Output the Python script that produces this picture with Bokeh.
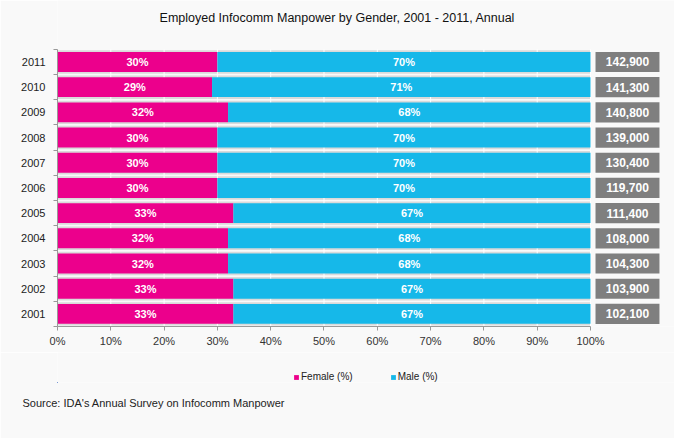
from bokeh.plotting import figure
from bokeh.layouts import column
from bokeh.models import ColumnDataSource, Range1d, FixedTicker, Label, Legend, LegendItem, Title
from bokeh.core.properties import value
from bokeh.embed import file_html
from bokeh.resources import INLINE

# data
years = [2001, 2002, 2003, 2004, 2005, 2006, 2007, 2008, 2009, 2010, 2011]
female = [33, 33, 32, 32, 33, 30, 30, 30, 32, 29, 30]
male = [67, 67, 68, 68, 67, 70, 70, 70, 68, 71, 70]
total = [102100, 103900, 104300, 108000, 111400, 119700, 130400, 139000, 140800, 141300, 142900]
pct_ticks = [0, 10, 20, 30, 40, 50, 60, 70, 80, 90, 100]

FONT = "Liberation Sans"
PINK = "#ec008c"
BLUE = "#16b8e9"
PAGE = "#f9f9f9"

n = len(years)
pos = list(range(n))
src = ColumnDataSource(dict(
    y=pos,
    female=female,
    end=[f + m for f, m in zip(female, male)],
    female_mid=[f / 2 for f in female],
    male_mid=[f + m / 2 for f, m in zip(female, male)],
    female_lbl=["%d%%" % f for f in female],
    male_lbl=["%d%%" % m for m in male],
    total_lbl=["{:,}".format(t) for t in total],
))

# main chart: frame runs from the top of the canvas, title sits inside it above the rows
p = figure(width=674, height=352, x_range=Range1d(0, 115.76), y_range=Range1d(-0.5, 12.44),
           output_backend="svg", toolbar_location=None,
           min_border_left=57, min_border_right=0, min_border_top=0, min_border_bottom=26)
p.background_fill_color = PAGE
p.border_fill_color = PAGE
p.outline_line_color = None
p.xgrid.visible = False
p.ygrid.visible = False

# grey row bands, white grid lines, then the bars
p.hbar(y="y", left=0, right=100, height=0.93, source=src, fill_color="#dadada", line_color=None)
p.segment(x0=pct_ticks, y0=-0.5, x1=pct_ticks, y1=n - 0.5, line_color="white", line_width=1)

p.hbar(y="y", left=0, right="female", height=0.79, source=src, fill_color=PINK, line_color=None)
p.hbar(y="y", left="female", right="end", height=0.79, source=src, fill_color=BLUE, line_color=None)

txt = dict(source=src, y="y", text_align="center", text_baseline="middle", text_color="white",
           text_font=value(FONT), text_font_style="bold")
p.text(x="female_mid", text="female_lbl", text_font_size="11px", **txt)
p.text(x="male_mid", text="male_lbl", text_font_size="11px", **txt)

# totals in grey boxes right of the bars
p.rect(x=106.94, y="y", width=12.0, height=0.8, source=src, fill_color="#7f7f7f", line_color=None)
p.text(x=106.94, text="total_lbl", text_font_size="12px", **txt)

# axes
p.xaxis.ticker = FixedTicker(ticks=pct_ticks)
p.xaxis.major_label_overrides = {t: "%d%%" % t for t in pct_ticks}
p.xaxis.bounds = (0, 100)
p.xaxis.axis_line_color = "#999999"
p.xaxis.major_tick_line_color = "#999999"
p.xaxis.major_tick_in = 0
p.xaxis.major_tick_out = 4
p.xaxis.minor_tick_line_color = None
p.xaxis.major_label_standoff = 4
p.xaxis.major_label_text_font = FONT
p.xaxis.major_label_text_font_size = "11px"
p.xaxis.major_label_text_color = "#333333"

p.yaxis.ticker = FixedTicker(ticks=pos, minor_ticks=[i - 0.5 for i in pos] + [n - 0.5])
p.yaxis.major_label_overrides = {i: str(y) for i, y in zip(pos, years)}
p.yaxis.bounds = (-0.5, n - 0.5)
p.yaxis.axis_line_color = "#999999"
p.yaxis.major_tick_line_color = None
p.yaxis.major_tick_out = 0
p.yaxis.major_tick_in = 0
p.yaxis.minor_tick_line_color = "#999999"
p.yaxis.minor_tick_in = 0
p.yaxis.minor_tick_out = 4
p.yaxis.major_label_standoff = 8
p.yaxis.major_label_text_font = FONT
p.yaxis.major_label_text_font_size = "11px"
p.yaxis.major_label_text_color = "#222222"

p.add_layout(Label(x=52.5, y=11.76, text="Employed Infocomm Manpower by Gender, 2001 - 2011, Annual",
                   text_align="center", text_baseline="middle", text_font=FONT,
                   text_font_size="12.5px", text_color="#111111"))

# strip under the chart for legend and source (a side-panel legend breaks the layout)
foot = figure(width=674, height=86, x_range=Range1d(200, 300), y_range=Range1d(20, 21),
              x_axis_location=None, y_axis_location=None,
              output_backend="svg", toolbar_location=None,
              min_border_left=57, min_border_right=0, min_border_top=0, min_border_bottom=56)
foot.grid.visible = False
foot.background_fill_color = PAGE
foot.border_fill_color = PAGE
foot.outline_line_color = None

# same bars again, kept out of view here, only to give the legend its swatches
kf = foot.hbar(y="y", left=0, right="female", height=0.79, source=src, fill_color=PINK, line_color=None)
km = foot.hbar(y="y", left="female", right="end", height=0.79, source=src, fill_color=BLUE, line_color=None)

legend = Legend(items=[LegendItem(label="Female (%)", renderers=[kf]),
                       LegendItem(label="Male (%)", renderers=[km])],
                orientation="horizontal", location=(236, 0),
                glyph_width=6, glyph_height=6, label_height=10, label_standoff=2, spacing=37,
                padding=0, margin=0, border_line_color=None, background_fill_alpha=0,
                label_text_font=FONT, label_text_font_size="10px", label_text_color="#222222")
foot.add_layout(legend)

foot.add_layout(Title(text="Source: IDA's Annual Survey on Infocomm Manpower", align="left", offset=-35,
                      vertical_align="top", standoff=28, text_font=FONT, text_font_size="11px",
                      text_font_style="normal", text_color="#222222"), "below")

open("out.html", "w").write(file_html(column(p, foot, spacing=0), INLINE))
